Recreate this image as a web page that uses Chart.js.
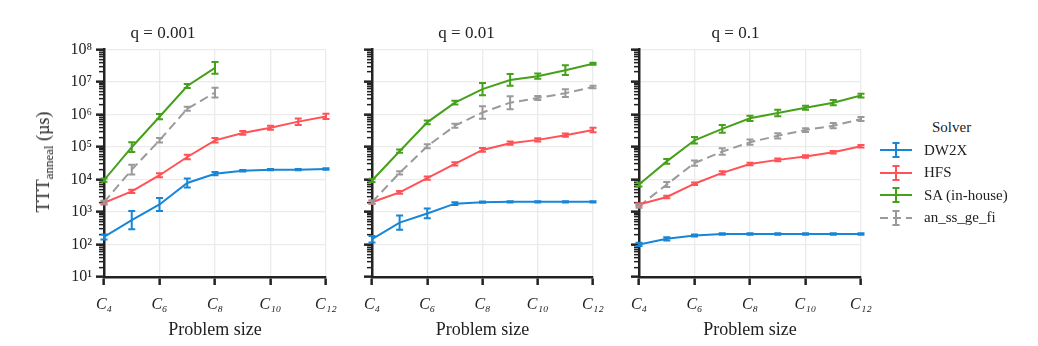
<!DOCTYPE html>
<html>
<head>
<meta charset="utf-8">
<script src="https://cdn.jsdelivr.net/npm/chart.js@4.4.1/dist/chart.umd.min.js"></script>
<style>
body{margin:0;background:#fff;width:1038px;height:346px;overflow:hidden;position:relative;font-family:"Liberation Serif","DejaVu Serif",serif;color:#222}
canvas{position:absolute;top:0}
#ytitle{position:absolute;left:45px;top:162px;transform:translate(-50%,-50%) rotate(-90deg);white-space:nowrap;font-size:18px}
#ytitle sub{font-size:13px;vertical-align:-4px}
#legend{position:absolute;left:880px;top:119px;font-size:15px}
#legend .t{margin-left:52px;height:20px}
#legend .row{display:flex;align-items:center;height:22.5px}
#legend canvas{position:static;margin-right:12px}
</style>
</head>
<body>
<canvas id="c1"></canvas>
<canvas id="c2"></canvas>
<canvas id="c3"></canvas>
<div id="ytitle">TTT<sub>anneal</sub> (µs)</div>
<div id="legend"></div>
<script>
// problem sizes C4..C12
var sizes=[4,5,6,7,8,9,10,11,12];
var xTicks=[4,6,8,10,12];
var panelTitles=['q = 0.001','q = 0.01','q = 0.1'];
var solvers=['DW2X','HFS','SA (in-house)','an_ss_ge_fi'];
var colors=['#1786d6','#ff5257','#45a01a','#9a9a9a'];

// q = 0.001
var dw2x1=[170,560,1700,7800,15000,18500,20000,20000,21000];
var hfs1=[1900,4300,13500,49000,160000,270000,390000,600000,870000];
var sa1=[9500,98000,850000,7500000,27000000];
var gray1=[2000,20000,160000,1500000,4700000];
var dw2xErr1=[0.08,0.28,0.2,0.14,0.05,0.02,0.02,0.02,0.02];
var hfsErr1=[0.05,0.05,0.06,0.07,0.07,0.06,0.06,0.1,0.08];
var saErr1=[0.05,0.15,0.08,0.06,0.18];
var grayErr1=[0.05,0.15,0.07,0.06,0.15];

// q = 0.01
var dw2x2=[145,470,900,1800,2000,2050,2050,2050,2050];
var hfs2=[2000,4000,11000,30000,81000,130000,165000,230000,330000];
var sa2=[9300,74000,570000,2300000,6000000,11500000,15000000,23000000,36000000];
var gray2=[2000,16000,105000,450000,1150000,2300000,3200000,4500000,7000000];
var dw2xErr2=[0.1,0.22,0.15,0.04,0.02,0.02,0.02,0.02,0.02];
var hfsErr2=[0.05,0.04,0.05,0.05,0.06,0.05,0.05,0.05,0.07];
var saErr2=[0.05,0.05,0.06,0.06,0.19,0.18,0.08,0.15,0.03];
var grayErr2=[0.05,0.05,0.06,0.06,0.19,0.2,0.06,0.12,0.04];

// q = 0.1
var dw2x3=[100,150,190,210,210,210,210,210,210];
var hfs3=[1700,2900,7400,16000,30000,40000,51000,69000,105000];
var sa3=[7000,36000,160000,360000,760000,1100000,1600000,2300000,3800000];
var gray3=[1500,7000,32000,72000,140000,220000,330000,450000,720000];
var dw2xErr3=[0.05,0.05,0.03,0.02,0.02,0.02,0.02,0.02,0.02];
var hfsErr3=[0.04,0.04,0.04,0.05,0.04,0.04,0.04,0.04,0.04];
var saErr3=[0.06,0.07,0.1,0.12,0.08,0.1,0.06,0.08,0.06];
var grayErr3=[0.05,0.08,0.08,0.1,0.08,0.08,0.06,0.08,0.06];

var sup={'1':'¹','2':'²','3':'³','4':'⁴','5':'⁵','6':'⁶','7':'⁷','8':'⁸'};
var subs={'0':'₀','1':'₁','2':'₂','4':'₄','6':'₆','8':'₈'};
var font='"Liberation Serif","DejaVu Serif",serif';

function isMajor(v){var l=Math.log10(v);return Math.abs(l-Math.round(l))<1e-9;}

function pts(vals){
  return vals.map(function(v,i){return {x:sizes[i],y:v};});
}

var errorBars={
  id:'errorBars',
  afterDatasetsDraw:function(chart){
    var c=chart.ctx,ys=chart.scales.y,xs=chart.scales.x;
    chart.data.datasets.forEach(function(ds){
      c.save();
      c.strokeStyle=ds.borderColor;c.lineWidth=2;
      ds.data.forEach(function(p,i){
        var e=Math.pow(10,ds.err[i]);
        var px=xs.getPixelForValue(p.x);
        var y1=ys.getPixelForValue(p.y/e),y2=ys.getPixelForValue(p.y*e);
        c.beginPath();
        c.moveTo(px,y1);c.lineTo(px,y2);
        c.moveTo(px-3.5,y1);c.lineTo(px+3.5,y1);
        c.moveTo(px-3.5,y2);c.lineTo(px+3.5,y2);
        c.stroke();
      });
      c.restore();
    });
  }
};

function makePanel(id,left,width,yWidth,padRight,title,series,errs,showLabels){
  var cv=document.getElementById(id);
  cv.style.left=left+'px';
  cv.width=width;cv.height=346;
  cv.style.width=width+'px';cv.style.height='346px';
  var datasets=series.map(function(s,k){
    return {
      label:solvers[k],data:pts(s),err:errs[k],
      borderColor:colors[k],backgroundColor:colors[k],
      borderWidth:2,pointRadius:0,tension:0,
      borderDash:k===3?[9,5]:[]
    };
  });
  new Chart(cv,{
    type:'line',
    data:{datasets:datasets},
    options:{
      responsive:false,animation:false,
      layout:{padding:{left:0,right:padRight,top:0,bottom:0}},
      plugins:{
        legend:{display:false},tooltip:{enabled:false},
        title:{display:true,text:title,color:'#222',
          font:{family:font,size:17,style:'normal',weight:'normal'},
          padding:{top:23,bottom:6}}
      },
      scales:{
        x:{
          type:'linear',min:4,max:12,
          afterBuildTicks:function(s){s.ticks=xTicks.map(function(v){return {value:v};});},
          afterFit:function(s){s.height=69;s.paddingRight=0;},
          ticks:{color:'#222',padding:10,maxRotation:0,autoSkip:false,
            font:{family:font,size:16,style:'italic'},
            callback:function(v){return 'C'+String(v).split('').map(function(d){return subs[d];}).join('');}},
          grid:{color:'#ebebeb',lineWidth:1.3,tickColor:'#222',tickWidth:2.5,tickLength:8},
          border:{display:true,color:'#222',width:2.5},
          title:{display:true,text:'Problem size',color:'#222',
            font:{family:font,size:18},padding:{top:2,bottom:5}}
        },
        y:{
          type:'logarithmic',min:10,max:1e8,
          afterBuildTicks:function(s){
            var t=[];
            for(var p=1;p<=7;p++){for(var m=1;m<10;m++){t.push({value:m*Math.pow(10,p)});}}
            t.push({value:1e8});
            s.ticks=t;
          },
          afterFit:function(s){s.width=yWidth;},
          ticks:{display:showLabels,color:'#222',padding:4,autoSkip:false,
            font:{family:font,size:16},
            callback:function(v){
              if(!isMajor(v))return '';
              return '10'+sup[String(Math.round(Math.log10(v)))];
            }},
          grid:{
            color:function(ctx){return ctx.tick&&isMajor(ctx.tick.value)?'#ebebeb':'rgba(0,0,0,0)';},
            lineWidth:1.3,
            tickColor:'#222',
            tickWidth:function(ctx){return ctx.tick&&isMajor(ctx.tick.value)?2.5:1.5;},
            tickLength:8,
            tickBorderDash:function(ctx){return ctx.tick&&isMajor(ctx.tick.value)?[]:[5,3];},
            tickBorderDashOffset:function(ctx){return ctx.tick&&isMajor(ctx.tick.value)?0:5;}
          },
          border:{display:true,color:'#222',width:2.5}
        }
      }
    },
    plugins:[errorBars]
  });
}

makePanel('c1',0,340,104,14,panelTitles[0],[dw2x1,hfs1,sa1,gray1],[dw2xErr1,hfsErr1,saErr1,grayErr1],true);
makePanel('c2',340,270,32,17,panelTitles[1],[dw2x2,hfs2,sa2,gray2],[dw2xErr2,hfsErr2,saErr2,grayErr2],false);
makePanel('c3',610,265,29,14,panelTitles[2],[dw2x3,hfs3,sa3,gray3],[dw2xErr3,hfsErr3,saErr3,grayErr3],false);

// legend
var lg=document.getElementById('legend');
var t=document.createElement('div');t.className='t';t.textContent='Solver';lg.appendChild(t);
solvers.forEach(function(name,k){
  var row=document.createElement('div');row.className='row';
  var cv=document.createElement('canvas');cv.width=32;cv.height=20;
  var c=cv.getContext('2d');
  c.strokeStyle=colors[k];c.lineWidth=2;
  if(k===3)c.setLineDash([8,5]);
  c.beginPath();c.moveTo(0,10);c.lineTo(32,10);c.stroke();
  c.setLineDash([]);
  c.beginPath();c.moveTo(16,3);c.lineTo(16,17);
  c.moveTo(12.5,3);c.lineTo(19.5,3);c.moveTo(12.5,17);c.lineTo(19.5,17);c.stroke();
  row.appendChild(cv);
  var s=document.createElement('span');s.textContent=name;row.appendChild(s);
  lg.appendChild(row);
});
</script>
</body>
</html>
